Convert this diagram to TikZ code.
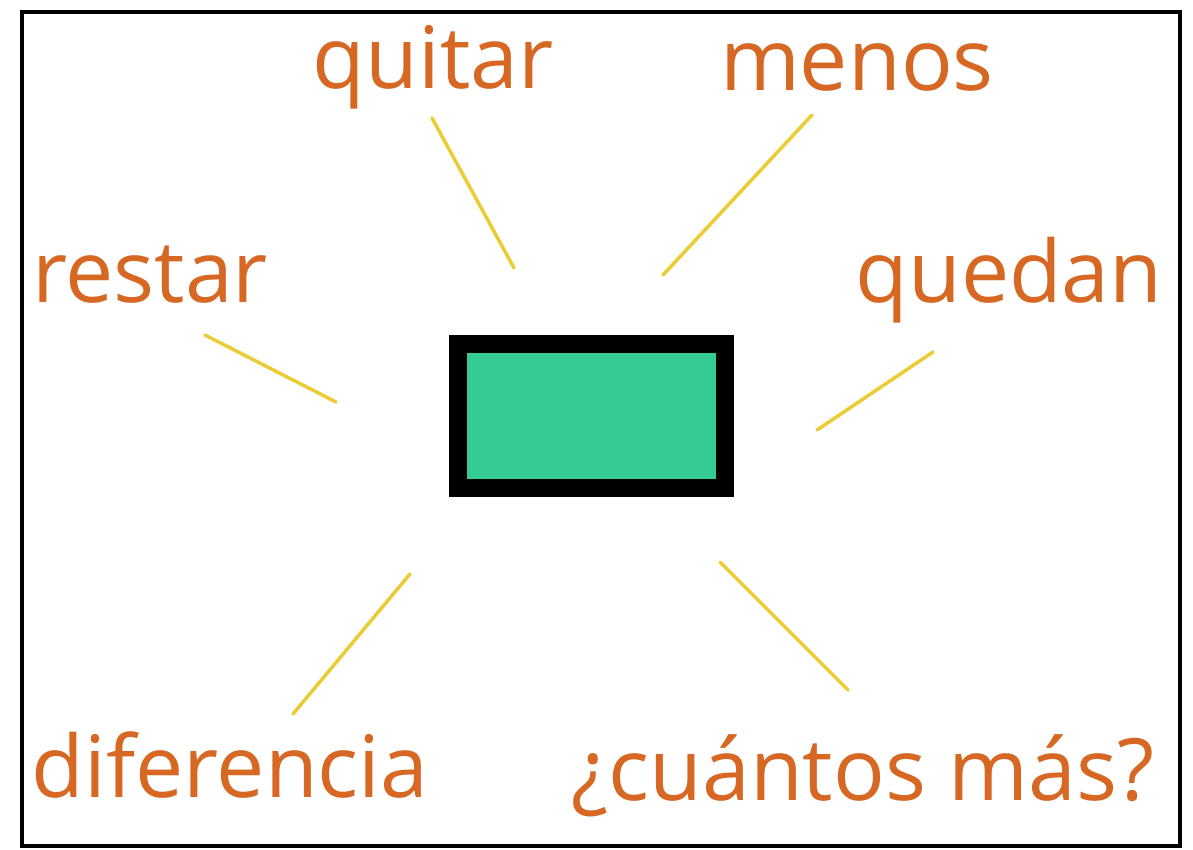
\documentclass[tikz,border=0pt]{standalone}
\usepackage{fontspec}
\setmainfont{Open Sans}
\usepackage{tikz}
\usetikzlibrary{positioning}
\definecolor{wordorange}{RGB}{214,104,36}
\definecolor{rayyellow}{RGB}{236,204,52}
\definecolor{boxgreen}{RGB}{52,204,148}
\tikzset{
    word/.style={text=wordorange, font=\fontsize{86}{86}\selectfont, anchor=base, inner sep=0pt},
    ray/.style={rayyellow, line width=3.5pt, line cap=round}
}

\begin{document}
\begin{tikzpicture}[x=1pt, y=-1pt]
        \useasboundingbox (0,0) rectangle (1193,849);
        % Frame
        \draw[line width=4pt] (22,12) rectangle (1180,846);
        % Central box
        \node[draw, line width=18pt, fill=boxgreen, minimum width=267pt, minimum height=144pt, inner sep=0pt] (hueco) at (591.5,416) {};
        % Words
        \node[word] (quitar) at (433,88) {quitar};
        \node[word] (menos) at (857,90) {menos};
        \node[word] (restar) at (150,302) {restar};
        \node[word] (quedan) at (1009,302) {quedan};
        \node[word] (diferencia) at (230,797) {diferencia};
        \node[word] (cuantos) at (863,800) {¿cuántos más?};
        % Rays
        \foreach \n/\xa/\ya/\xb/\yb in {q/432/118/514/268, m/812/115/663/275, r/205/335/336/402,
                                         u/933/352/817/430, d/410/574/293/714, c/720/562/848/690} {
                \coordinate (\n a) at (\xa,\ya);
                \coordinate (\n b) at (\xb,\yb);
                \draw[ray] (\n a) -- (\n b);
            }
    \end{tikzpicture}
\end{document}
